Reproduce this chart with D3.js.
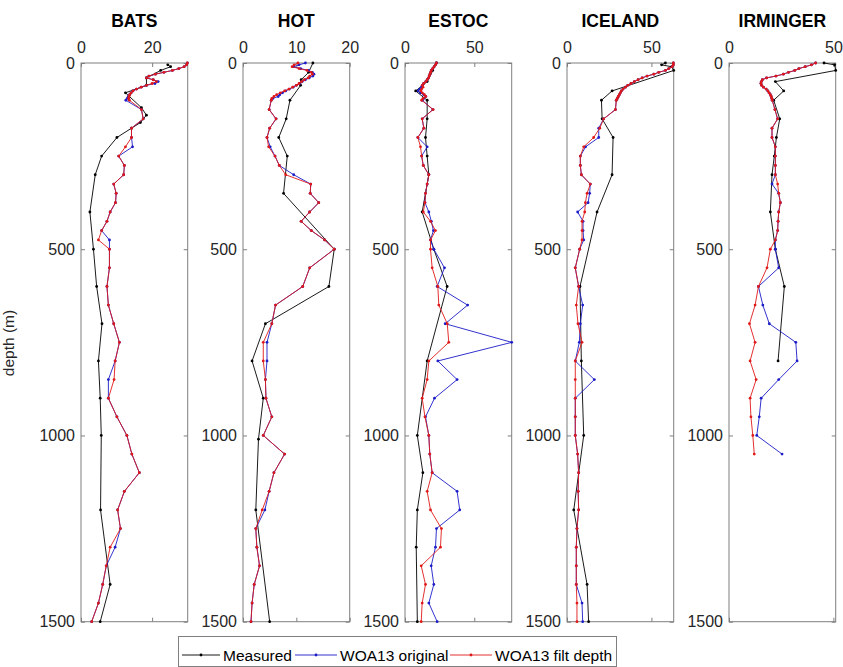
<!DOCTYPE html>
<html><head><meta charset="utf-8">
<script src="https://cdn.jsdelivr.net/npm/d3@7"></script>
<style>body{margin:0;background:#fff} text{font-family:"Liberation Sans",Arial,Helvetica,sans-serif}</style>
</head><body><svg id="c" width="843" height="667"></svg>
<script>
const stations = ["BATS","HOT","ESTOC","ICELAND","IRMINGER"];
const xMax = [30, 20, 77, 63.2, 51.1];
const xTicks = [[0,20],[0,10,20],[0,50],[0,50],[0,50]];
const depthTicks = [0,500,1000,1500];
const seriesNames = ["Measured","WOA13 original","WOA13 filt depth"];

const woaDepth = [0,5,10,15,20,25,30,35,40,45,50,55,60,65,70,75,80,85,90,95,100,
  125,150,175,200,225,250,275,300,325,350,375,400,425,450,475,500,
  550,600,650,700,750,800,850,900,950,1000,1050,1100,1150,1200,1250,1300,1350,1400,1450,1500];

// BATS
const batsMeasDepth = [5,10,20,40,60,80,120,140,160,175,200,250,300,400,500,600,700,800,900,1000,1200,1400,1500];
const batsMeas = [24.4,25.2,22.4,18.4,18.4,12.5,17.0,18.4,16.7,14.2,10.1,5.8,4.0,2.5,3.5,4.4,5.9,4.9,5.4,5.7,5.5,8.2,5.4];
const batsOrig = [29.9,29.7,29.0,27.5,25.7,23.3,20.9,19.1,18.4,20.3,21.7,20.8,18.4,16.9,15.6,14.6,14.1,13.7,13.3,13.0,12.6,
  17.0,17.5,14.2,14.2,14.5,10.6,12.2,12.0,9.2,9.9,9.7,8.2,7.3,5.8,8.0,8.0,
  8.0,7.3,7.7,9.2,10.8,9.6,7.7,7.7,10.1,12.9,14.3,16.4,12.2,10.3,11.1,9.6,7.1,6.1,4.9,3.0];
const batsFilt = [29.9,29.7,29.0,27.5,25.7,23.3,20.9,19.1,18.4,20.3,21.2,20.0,18.4,16.9,15.6,14.6,14.1,13.7,13.5,13.4,13.6,
  17.0,17.5,14.2,14.2,12.5,10.6,12.2,12.0,9.2,9.9,9.7,8.2,7.3,5.8,4.9,8.0,
  8.0,7.3,7.7,9.2,10.8,9.6,9.3,7.7,10.1,12.9,14.3,16.4,12.2,10.3,11.1,8.2,7.1,6.1,4.9,3.0];

// HOT
const hotMeasDepth = [0,25,45,60,100,150,200,250,350,500,600,700,800,900,1010,1200,1500];
const hotMeas = [13.1,12.3,10.9,10.8,8.8,8.1,6.7,8.3,7.6,17.1,16.1,4.2,1.7,3.8,2.9,2.4,5.0];
const hotOrig = [11.7,10.5,9.5,10.8,12.3,13.0,13.3,13.1,12.4,11.7,11.1,10.6,10.0,9.4,8.7,8.0,7.4,6.9,6.6,5.6,5.3,
  4.9,6.2,5.0,4.5,5.1,6.0,6.8,9.5,12.7,12.6,14.2,12.5,10.9,12.8,15.3,17.1,
  12.5,11.2,6.1,5.4,4.5,4.5,4.2,4.3,5.4,3.8,7.8,5.8,4.9,4.1,2.4,2.6,3.1,2.1,1.7,1.5];
const hotFilt = [10.3,9.6,9.2,10.5,12.0,12.8,13.0,12.5,12.2,11.5,11.0,10.5,10.0,9.3,8.6,7.8,7.0,6.3,5.8,5.4,5.3,
  4.9,6.2,5.0,4.5,4.8,6.0,6.8,8.0,12.7,12.6,14.2,12.5,10.9,12.8,15.3,17.1,
  12.5,11.2,6.1,5.4,3.8,3.8,4.2,4.3,5.4,3.8,7.8,5.8,4.9,3.6,2.4,2.6,3.1,2.1,1.7,1.5];

// ESTOC
const estocMeasDepth = [0,20,50,75,100,150,200,250,300,400,500,600,800,1000,1100,1200,1300,1500];
const estocMeas = [22.7,20.0,16.0,7.7,16.0,16.0,14.8,16.0,17.2,12.4,20.8,30.4,16.0,8.9,12.9,8.9,8.1,8.9];
const estocOrig = [22.7,22.0,21.0,20.0,19.0,18.5,18.0,17.5,17.0,16.0,15.0,13.5,12.5,12.0,10.5,9.5,11.0,13.5,15.0,13.5,12.5,
  20.1,12.4,13.6,9.3,16.0,12.0,13.2,17.2,16.0,14.8,14.4,17.2,19.0,20.5,18.4,20.8,
  28.5,23.2,45.2,29.0,77.0,23.7,37.6,21.3,14.8,17.2,17.9,19.6,37.6,39.5,22.7,22.0,18.9,20.8,17.2,23.2];
const estocFilt = [22.7,22.0,21.0,20.0,19.0,18.5,18.0,17.5,17.0,16.0,15.0,13.5,12.5,13.0,12.0,11.5,12.5,14.0,15.0,13.0,12.0,
  20.3,12.4,13.6,9.3,11.2,12.0,13.2,17.2,16.0,14.8,14.4,13.2,18.4,22.0,18.4,18.4,
  19.6,23.7,24.4,30.5,31.6,17.2,16.0,12.4,14.4,17.2,17.9,19.6,16.0,18.4,26.3,25.6,11.7,14.8,12.4,11.7];

// ICELAND
const icelandMeasDepth = [0,5,10,20,75,100,150,200,300,400,600,800,1000,1200,1400,1500];
const icelandMeas = [58.3,56.0,62.0,63.2,26.7,20.4,20.8,27.3,26.7,17.8,7.7,8.5,9.9,4.0,11.9,12.8];
const icelandOrig = [63.0,63.0,62.3,60.3,58.3,54.3,51.4,47.4,44.5,42.1,39.9,37.9,36.0,34.6,33.2,32.2,31.6,31.0,30.4,29.8,29.2,
  28.7,21.7,18.8,18.8,11.0,7.9,7.9,8.5,13.8,13.4,12.5,6.3,9.5,9.5,9.9,7.5,
  4.9,6.9,9.3,7.9,7.3,4.9,16.2,4.9,4.9,4.9,6.3,6.9,6.6,6.9,5.9,5.5,5.5,5.5,8.9,9.3];
const icelandFilt = [63.0,63.0,62.3,60.3,58.3,54.3,51.4,47.4,44.5,42.1,39.9,37.9,36.0,34.6,33.2,32.2,31.6,31.0,30.4,29.8,29.2,
  28.7,21.7,19.4,15.8,9.9,7.9,7.9,8.5,13.8,11.9,10.9,10.5,8.9,8.9,8.9,7.5,
  4.9,6.9,5.5,6.5,8.9,4.9,4.9,4.9,4.9,4.9,6.3,6.9,6.6,6.9,5.9,5.5,5.5,5.5,5.9,5.9];

// IRMINGER
const irmMeasDepth = [0,5,20,50,75,100,150,200,250,300,400,500,600,800];
const irmMeas = [45.5,50.6,51.1,22.2,26.2,21.4,24.3,22.7,21.7,20.6,19.8,22.2,26.5,23.5];
const irmOrig = [41.5,39.5,36.5,33.5,31.5,28.5,26.0,22.5,18.0,16.0,15.5,15.3,15.6,16.5,17.8,18.6,19.2,19.8,20.2,20.5,20.7,
  22.0,23.3,20.6,20.6,22.2,22.2,22.2,22.2,20.6,23.8,24.6,23.8,23.5,23.3,22.2,22.2,
  23.8,14.1,16.2,19.3,32.0,32.6,23.8,15.4,14.5,13.3,25.4];
const irmFilt = [41.5,39.5,36.5,33.5,31.5,28.5,26.0,22.5,18.0,16.0,15.5,15.3,15.6,16.5,17.8,18.6,19.2,19.8,20.2,20.5,20.7,
  22.0,23.3,20.6,20.6,22.2,22.2,22.2,22.2,23.3,23.8,24.6,23.8,23.5,23.3,22.2,19.8,
  18.2,14.1,12.5,9.8,12.5,10.1,13.0,10.1,10.5,11.4,12.1];

const measDepths = [batsMeasDepth, hotMeasDepth, estocMeasDepth, icelandMeasDepth, irmMeasDepth];
const measVals = [batsMeas, hotMeas, estocMeas, icelandMeas, irmMeas];
const origVals = [batsOrig, hotOrig, estocOrig, icelandOrig, irmOrig];
const filtVals = [batsFilt, hotFilt, estocFilt, icelandFilt, irmFilt];

const colors = ["#000000", "#1c1cc8", "#e01818"];
const axisGray = "#7f7f7f", textCol = "#262626";

const svg = d3.select("#c");
const W = 106.7, topY = 63, botY = 621.7, left0 = 81, step = 162;
const y = d3.scaleLinear().domain([0,1500]).range([topY, botY]);

function pairs(depths, vals){ return vals.map((v,k)=>({d:depths[k], v:v})); }

stations.forEach((name, i) => {
  const x0 = left0 + i*step;
  const x = d3.scaleLinear().domain([0, xMax[i]]).range([x0, x0+W]);
  const g = svg.append("g");

  g.append("rect").attr("x", x0).attr("y", topY).attr("width", W).attr("height", botY-topY)
    .attr("fill", "none").attr("stroke", axisGray).attr("stroke-width", 1);

  const style = sel => {
    sel.select(".domain").remove();
    sel.selectAll(".tick line").attr("stroke", axisGray);
    sel.selectAll(".tick text").attr("fill", textCol).style("font-size", "16px")
      .style("font-family", '"Liberation Sans", Arial, sans-serif');
  };
  g.append("g").attr("transform", `translate(0,${topY})`)
    .call(d3.axisTop(x).tickValues(xTicks[i]).tickFormat(d3.format("d")).tickSize(-4).tickPadding(10))
    .call(style);
  g.append("g").attr("transform", `translate(0,${botY})`)
    .call(d3.axisBottom(x).tickValues(xTicks[i]).tickFormat("").tickSize(-4))
    .call(style);
  g.append("g").attr("transform", `translate(${x0},0)`)
    .call(d3.axisLeft(y).tickValues(depthTicks).tickFormat(d3.format("d")).tickSize(-4).tickPadding(6))
    .call(style);
  g.append("g").attr("transform", `translate(${x0+W},0)`)
    .call(d3.axisRight(y).tickValues(depthTicks).tickFormat("").tickSize(-4))
    .call(style);

  g.append("text").attr("x", x0 + W/2).attr("y", 27).attr("text-anchor", "middle")
    .style("font-size", "17.5px").style("font-weight", "bold").attr("fill", "#000").text(name);

  const sets = [pairs(measDepths[i], measVals[i]), pairs(woaDepth, origVals[i]), pairs(woaDepth, filtVals[i])];
  const line = d3.line().x(p => x(p.v)).y(p => y(p.d));
  sets.forEach((data, s) => {
    g.append("path").datum(data).attr("d", line).attr("fill", "none")
      .attr("stroke", colors[s]).attr("stroke-width", 0.9);
    g.selectAll(null).data(data).enter().append("circle")
      .attr("cx", p => x(p.v)).attr("cy", p => y(p.d)).attr("r", 1.4).attr("fill", colors[s]);
  });
});

svg.append("text").attr("transform", "translate(14,343) rotate(-90)").attr("text-anchor", "middle")
  .style("font-size", "15.5px").attr("fill", textCol).text("depth (m)");

// legend
const lg = svg.append("g");
lg.append("rect").attr("x", 178.5).attr("y", 636.5).attr("width", 438).attr("height", 30)
  .attr("fill", "#fff").attr("stroke", axisGray);
const legX = [[182, 220, 223], [295, 337, 340], [450, 492, 495]];
seriesNames.forEach((nm, s) => {
  const [a, b, t] = legX[s];
  lg.append("line").attr("x1", a).attr("x2", b).attr("y1", 655).attr("y2", 655)
    .attr("stroke", colors[s]).attr("stroke-width", 0.9);
  lg.append("circle").attr("cx", (a+b)/2).attr("cy", 655).attr("r", 1.4).attr("fill", colors[s]);
  lg.append("text").attr("x", t).attr("y", 661).style("font-size", "15.5px").attr("fill", "#000").text(nm);
});
</script></body></html>
